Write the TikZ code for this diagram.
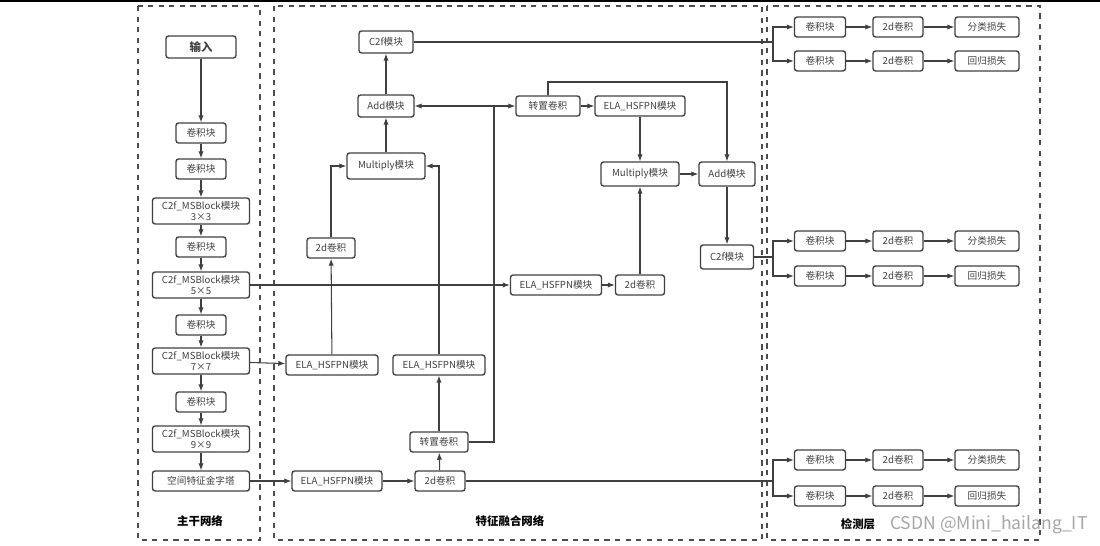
\documentclass[tikz,border=0pt]{standalone}
\usepackage{fontspec}
\setmainfont{Noto Sans CJK SC}
\usetikzlibrary{arrows.meta,positioning}
\begin{document}
\begin{tikzpicture}[
    x=0.02cm, y=-0.02cm,
    box/.style={draw=black!75, thick, rounded corners=1.5pt, minimum height=0.4cm, inner sep=1pt, font=\fontsize{5.5}{6.5}\selectfont, text=black!75},
    tall/.style={box, minimum height=0.52cm, align=center},
    panel/.style={draw, dashed, thick, black!70},
    title/.style={font=\fontsize{6.5}{7.5}\selectfont\bfseries},
    link/.style={semithick, draw=black!75},
    >={Latex[length=4pt,width=3pt]}
]
\useasboundingbox (0,0) rectangle (1100,546);
\draw[thick] (0,1) -- (1100,1);

% Panels
\draw[panel] (138,6) rectangle (260,540);
\draw[panel] (274,6) rectangle (762,540);
\draw[panel] (767,6) rectangle (1040,540);
\node[title] (tB) at (200,521) {主干网络};
\node[title] (tF) at (510,521) {特征融合网络};
\node[title] (tD) at (858,524) {检测层};

% Backbone
\node[box, minimum width=1.4cm, font=\fontsize{6.5}{7.5}\selectfont\bfseries, minimum height=0.44cm] (in) at (201,47) {输入};
\node[box, minimum width=1cm] (b1) at (201,133) {卷积块};
\node[box, minimum width=1cm] (b2) at (201,169) {卷积块};
\node[tall, minimum width=1.94cm] (m3) at (201,211) {C2f\_MSBlock模块\\3×3};
\node[box, minimum width=1cm] (b3) at (201,247) {卷积块};
\node[tall, minimum width=1.94cm] (m5) at (201,285) {C2f\_MSBlock模块\\5×5};
\node[box, minimum width=1cm] (b4) at (201,325) {卷积块};
\node[tall, minimum width=1.94cm] (m7) at (201,361) {C2f\_MSBlock模块\\7×7};
\node[box, minimum width=1cm] (b5) at (201,402) {卷积块};
\node[tall, minimum width=1.94cm] (m9) at (201,439) {C2f\_MSBlock模块\\9×9};
\node[box, minimum width=1.94cm] (spp) at (201,481) {空间特征金字塔};
\foreach \a/\b in {in/b1,b1/b2,b2/m3,m3/b3,b3/m5,m5/b4,b4/m7,m7/b5,b5/m9,m9/spp}
    \draw[->, link] (\a) -- (\b);

% Fusion network
\node[box, minimum width=1.08cm, minimum height=0.44cm] (c2fT) at (386,42) {C2f模块};
\node[box, minimum width=1.12cm, minimum height=0.44cm] (addL) at (386,106) {Add模块};
\node[box, minimum width=1.56cm, minimum height=0.52cm] (mulL) at (386,166) {Multiply模块};
\node[box, minimum width=0.96cm] (cvL) at (331,248) {2d卷积};
\node[box, minimum width=1.84cm] (elaA) at (332,365) {ELA\_HSFPN模块};
\node[box, minimum width=1.84cm] (elaB) at (439,365) {ELA\_HSFPN模块};
\node[box, minimum width=1.16cm] (upB) at (439,442) {转置卷积};
\node[box, minimum width=1.8cm] (elaS) at (337,481) {ELA\_HSFPN模块};
\node[box, minimum width=1cm] (cvS) at (440,481) {2d卷积};
\node[box, minimum width=1.28cm] (upT) at (548,106) {转置卷积};
\node[box, minimum width=1.8cm] (elaT) at (640,106) {ELA\_HSFPN模块};
\node[box, minimum width=1.56cm, minimum height=0.48cm] (mulR) at (640,174) {Multiply模块};
\node[box, minimum width=1.12cm, minimum height=0.48cm] (addR) at (727,174) {Add模块};
\node[box, minimum width=1.06cm, minimum height=0.48cm] (c2fR) at (727,257) {C2f模块};
\node[box, minimum width=1.82cm] (elaM) at (556,285) {ELA\_HSFPN模块};
\node[box, minimum width=0.98cm] (cvM) at (640,285) {2d卷积};

\coordinate (jT) at (494,106);
\draw[->, link] (m5) -- (elaM);
\draw[->, link] (m7) -- (elaA);
\draw[->, link] (spp) -- (elaS);
\draw[->, link] (elaS) -- (cvS);
\draw[->, link] (cvS) -- (upB);
\draw[->, link] (upB) -- (elaB);
\draw[->, link] (elaB.north) |- (mulL.east);
\draw[->, link] (elaA) -- (cvL);
\draw[->, link] (cvL.north) |- (mulL.west);
\draw[->, link] (mulL) -- (addL);
\draw[->, link] (addL) -- (c2fT);
\draw[link] (upB.east) -| (jT);
\draw[->, link] (jT) -- (addL);
\draw[->, link] (jT) -- (upT);
\draw[->, link] (upT) -- (elaT);
\draw[->, link] (upT.north) |- (600,82) -| (addR.north);
\draw[->, link] (elaT) -- (mulR);
\draw[->, link] (elaM) -- (cvM);
\draw[->, link] (cvM) -- (mulR);
\draw[->, link] (mulR) -- (addR);
\draw[->, link] (addR) -- (c2fR);

% Detection heads
\foreach \s/\ya/\yb in {T/27/61, M/241/276, S/460/496} {
    \node[box, minimum width=1.02cm] (k\s1) at (820,\ya) {卷积块};
    \node[box, minimum width=1cm] (d\s1) at (898,\ya) {2d卷积};
    \node[box, minimum width=1.28cm] (l\s1) at (987,\ya) {分类损失};
    \node[box, minimum width=1.02cm] (k\s2) at (820,\yb) {卷积块};
    \node[box, minimum width=1cm] (d\s2) at (898,\yb) {2d卷积};
    \node[box, minimum width=1.28cm] (l\s2) at (987,\yb) {回归损失};
    \foreach \r in {1,2} {
        \draw[->, link] (k\s\r) -- (d\s\r);
        \draw[->, link] (d\s\r) -- (l\s\r);
    }
}
\coordinate (sT) at (773,42);
\coordinate (sM) at (773,257);
\coordinate (sS) at (773,481);
\draw[link] (c2fT) -- (sT);
\draw[link] (c2fR) -- (sM);
\draw[link] (cvS) -- (sS);
\foreach \s in {T,M,S} {
    \draw[->, link] (s\s) |- (k\s1);
    \draw[->, link] (s\s) |- (k\s2);
}

\node[text=black!35, font=\fontsize{10}{11}\selectfont, anchor=west] (wm) at (884,525) {CSDN @Mini\_hailang\_IT};
\end{tikzpicture}
\end{document}
